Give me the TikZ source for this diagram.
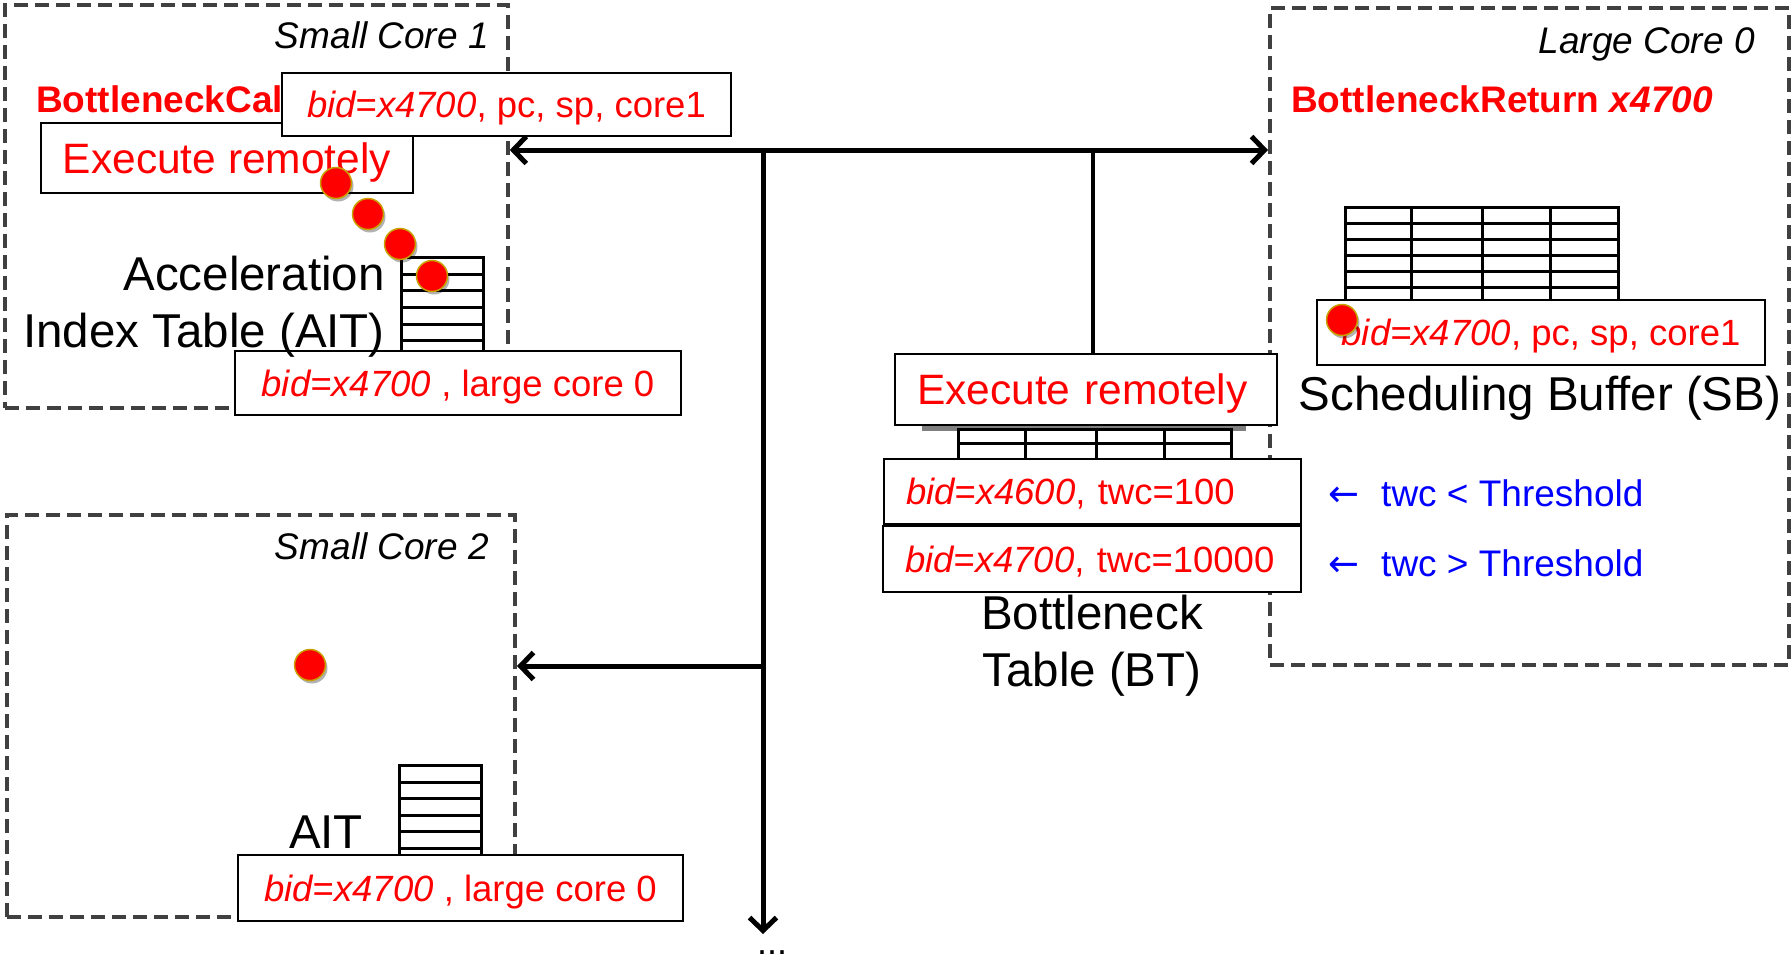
\documentclass[tikz,border=0pt]{standalone}
\usepackage{fontspec}
\setmainfont{Liberation Sans}
\newfontfamily\dejavu{DejaVu Sans}
\usetikzlibrary{arrows.meta,shadows}
\definecolor{dotedge}{RGB}{200,160,0}
\definecolor{coregray}{RGB}{64,64,64}
\definecolor{tblue}{RGB}{0,0,255}
\begin{document}
\begin{tikzpicture}[x=1pt,y=-1pt,
  >={Straight Barb[length=13pt,width=27pt]},
  core/.style={draw=coregray, line width=4pt, dash pattern=on 14pt off 7pt, inner sep=0pt},
  corelbl/.style={font=\fontsize{37}{40}\selectfont\itshape, anchor=base east, inner sep=0pt},
  rbox/.style={draw, fill=white, line width=2.2pt, text=red, font=\fontsize{36.5}{40}\selectfont, inner sep=0pt, text height=26pt, text depth=0pt},
  exbox/.style={rbox, font=\fontsize{42.5}{46}\selectfont, text height=30.5pt},
  lbl/.style={font=\fontsize{47.5}{57}\selectfont, inner sep=0pt},
  tbl/.style={line width=3pt},
  tok/.style={circle, fill=red, draw=dotedge, line width=1.5pt, minimum size=31pt, inner sep=0pt,
    drop shadow={shadow xshift=2pt, shadow yshift=-3pt, opacity=0.3, fill=black}},
  bus/.style={line width=5pt},
  note/.style={text=tblue, font=\fontsize{37}{40}\selectfont, anchor=base west, inner sep=0pt}
]
\useasboundingbox (0,0) rectangle (1791,961);

% core boundaries
\node[core, minimum width=503pt, minimum height=403pt] (sc1) at (256.3,206.3) {};
\node[core, minimum width=508pt, minimum height=402pt] (sc2) at (261,716) {};
\node[core, minimum width=519pt, minimum height=657pt] (lc0) at (1529.5,336.5) {};
\node[corelbl] (sc1lbl) at (489,48) {Small Core 1};
\node[corelbl] (sc2lbl) at (489,559) {Small Core 2};
\node[corelbl] (lc0lbl) at (1755,53) {Large Core 0};

% bus
\coordinate (bj) at (763,150);
\coordinate (btj) at (1093,150);
\coordinate (down) at (763,934);
\coordinate (br) at (763,666);
\draw[bus,<->] (sc1.east |- bj) -- (lc0.west |- bj);
\draw[bus,->] (bj) -- (down);
\draw[bus,->] (br) -- (sc2.east |- br);
\node[anchor=base, font=\fontsize{36}{40}\selectfont, inner sep=0pt] (more) at (772,954) {...};

% small core 1
\node[font=\fontsize{37}{40}\selectfont\bfseries, text=red, anchor=base west, inner sep=0pt] (bcall) at (36,112) {BottleneckCall};
\node[exbox, minimum width=372pt, minimum height=70pt] (ex1) at (227,158) {Execute remotely};
\node[rbox, minimum width=449pt, minimum height=63pt] (call) at (506.5,104.5) {\textit{bid=x4700}, pc, sp, core1};
\draw[tbl] (401,257) rectangle (483,360);
\foreach \yy in {274,290,307,324,340} \draw[tbl] (401,\yy) -- (483,\yy);
\node[rbox, minimum width=446pt, minimum height=64pt] (ait1) at (458,383) {\textit{bid=x4700} , large core 0};
\node[lbl, anchor=base east] (acc) at (385,290.5) {Acceleration};
\node[lbl, anchor=base east] (aitname) at (385,347.5) {Index Table (AIT)};
\node[tok] (d1) at (336,183) {};
\node[tok] (d2) at (368,214) {};
\node[tok] (d3) at (400,244) {};
\node[tok] (d4) at (432,276) {};

% small core 2
\draw[tbl] (399,765) rectangle (481,870);
\foreach \yy in {782,798,815,831,848} \draw[tbl] (399,\yy) -- (481,\yy);
\node[rbox, minimum width=445pt, minimum height=66pt] (ait2) at (460.5,888) {\textit{bid=x4700} , large core 0};
\node[lbl, anchor=base] (ait2lbl) at (326,848.5) {AIT};
\node[tok] (d5) at (310,665) {};

% bottleneck table
\fill[gray] (922,425) rectangle (1246,431);
\draw[tbl] (958,429) rectangle (1231,528);
\draw[tbl] (958,443) -- (1231,443);
\foreach \xx in {1025,1096,1164} \draw[tbl] (\xx,429) -- (\xx,528);
\node[exbox, minimum width=382pt, minimum height=71pt, text width=338pt, align=left] (btx) at (1086,389.5) {Execute remotely};
\draw[line width=3.5pt] (btj) -- (btx.north -| btj);
\node[rbox, minimum width=417pt, minimum height=65pt, text width=373pt, align=left] (bt1) at (1092.5,491.5) {\textit{bid=x4600}, twc=100};
\node[rbox, minimum width=418pt, minimum height=66pt, text width=374pt, align=left] (bt2) at (1092,559) {\textit{bid=x4700}, twc=10000};
\node[lbl, anchor=base] (btl1) at (1092,629.5) {Bottleneck};
\node[lbl, anchor=base] (btl2) at (1092,686.5) {Table (BT)};
\node[note] (n1) at (1328,506) {{\dejavu ←}\hspace{22pt}twc < Threshold};
\node[note] (n2) at (1328,576) {{\dejavu ←}\hspace{22pt}twc > Threshold};

% large core
\node[font=\fontsize{37}{40}\selectfont\bfseries, text=red, anchor=base west, inner sep=0pt] (bret) at (1291,112) {BottleneckReturn \textit{x4700}};
\draw[tbl] (1345,207) rectangle (1618,310);
\foreach \yy in {223,239,255,271,287} \draw[tbl] (1345,\yy) -- (1618,\yy);
\foreach \xx in {1411,1482,1550} \draw[tbl] (\xx,207) -- (\xx,310);
\node[rbox, minimum width=448pt, minimum height=65pt] (sb) at (1541,332.5) {\textit{bid=x4700}, pc, sp, core1};
\node[tok] (d6) at (1342,320) {};
\node[lbl, anchor=base] (sblbl) at (1540,410.5) {Scheduling Buffer (SB)};
\end{tikzpicture}
\end{document}
